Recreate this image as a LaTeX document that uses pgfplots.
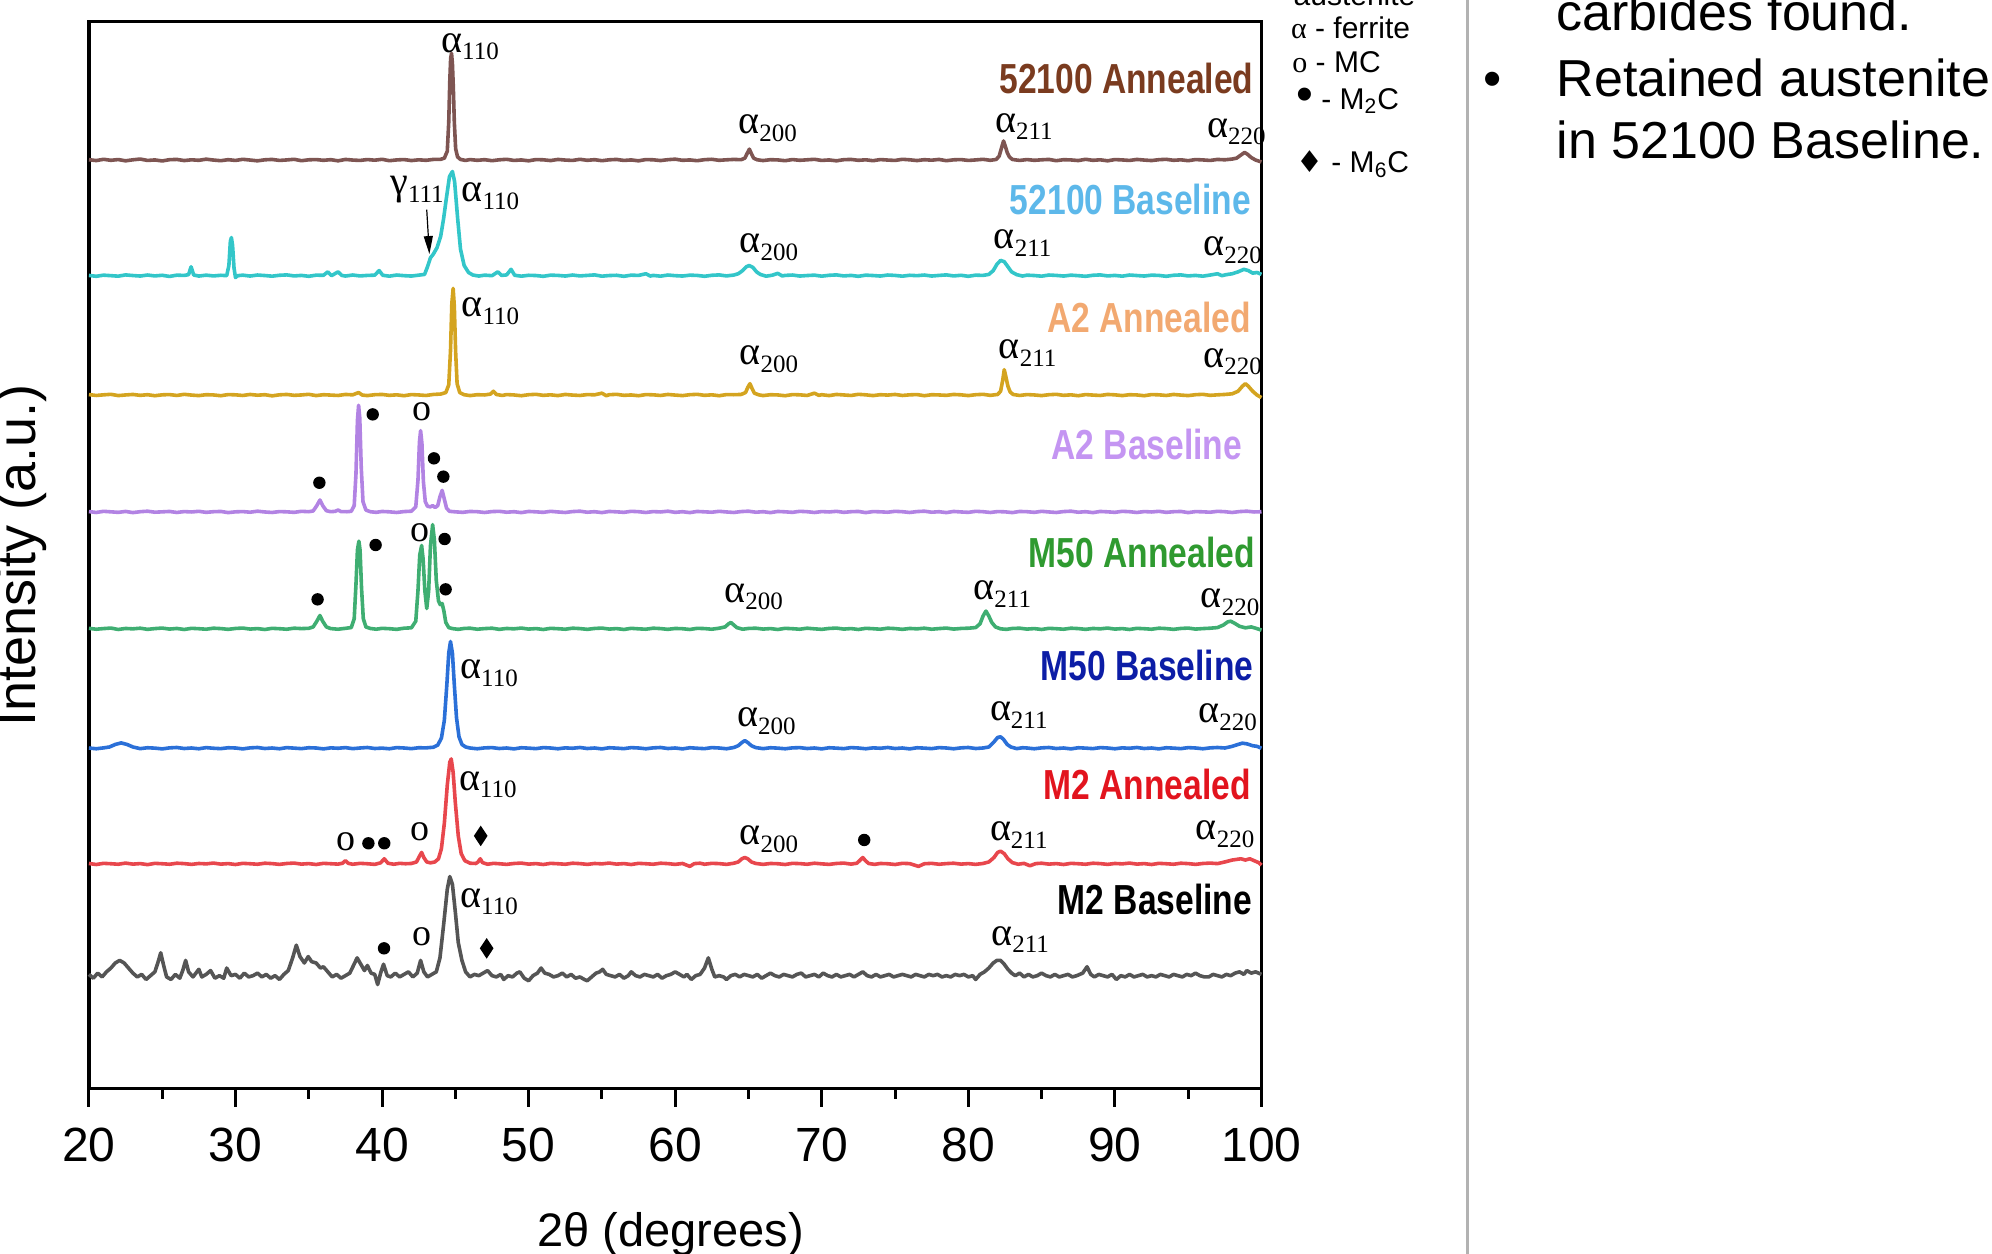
\documentclass[border=0pt]{standalone}
\usepackage{fontspec}
\setmainfont{Liberation Sans}
\newfontfamily\tms{Liberation Serif}
\newfontfamily\cond[FakeStretch=0.8]{Liberation Sans}
\newfontfamily\dejavu{DejaVu Sans}
\usepackage{pgfplots}
\pgfplotsset{compat=1.18}
\usetikzlibrary{arrows.meta,shapes.geometric}
\definecolor{cBrown}{HTML}{7E5552}
\definecolor{cBrownT}{HTML}{7A3B1F}
\definecolor{cCyan}{HTML}{33C6C9}
\definecolor{cCyanT}{HTML}{5DB8EA}
\definecolor{cGold}{HTML}{D4A420}
\definecolor{cGoldT}{HTML}{F2A971}
\definecolor{cPurple}{HTML}{B283E3}
\definecolor{cPurpleT}{HTML}{C495F2}
\definecolor{cGreen}{HTML}{3FAE72}
\definecolor{cGreenT}{HTML}{2F9A30}
\definecolor{cBlue}{HTML}{2B70D8}
\definecolor{cBlueT}{HTML}{0C1DA6}
\definecolor{cRed}{HTML}{E8474D}
\definecolor{cRedT}{HTML}{E2141E}
\definecolor{cGray}{HTML}{555555}
\newcommand\al[1]{{\tms\fontsize{20}{20}\selectfont α\fontsize{12.5}{12.5}\selectfont\raisebox{-3.9pt}{#1}}}
\newcommand\ga[1]{{\tms\fontsize{20}{20}\selectfont γ\fontsize{12.5}{12.5}\selectfont\raisebox{-3.9pt}{#1}}}
\begin{document}
\begin{tikzpicture}[
  dot/.style={circle, fill=black, inner sep=0pt, minimum size=6.2pt},
  omk/.style={font=\tms\fontsize{19}{19}\selectfont, inner sep=0pt},
  dia/.style={diamond, fill=black, inner sep=0pt, minimum width=7pt, minimum height=10.5pt},
  pk/.style={anchor=base west, inner sep=0pt},
  sn/.style={anchor=base east, inner sep=0pt, font=\cond\bfseries\fontsize{21}{21}\selectfont},
  lg/.style={anchor=base west, inner sep=0pt, font=\fontsize{15}{15}\selectfont},
  rt/.style={anchor=base west, inner sep=0pt, font=\fontsize{26}{26}\selectfont}]
\useasboundingbox (0,0) rectangle (996pt,626.94pt);
\begin{axis}[
  at={(44.46pt,82.58pt)}, anchor=south west,
  scale only axis, width=586.29pt, height=533.57pt,
  xmin=20, xmax=100, ymin=0, ymax=840,
  xtick={20,30,...,100}, minor xtick={25,35,...,95},
  ytick=\empty,
  xtick pos=lower, tick align=outside,
  major tick length=9pt, minor tick length=5pt,
  tick style={black, line width=1.5pt},
  axis line style={line width=1.6pt},
  /pgf/number format/assume math mode=true,
  xticklabel style={font=\fontsize{24}{24}\selectfont, yshift=-7pt},
  xlabel={2θ (degrees)}, ylabel={Intensity (a.u.)},
  xlabel style={font=\fontsize{23.5}{24}\selectfont, at={(axis description cs:0.496,-0.136)}, anchor=center},
  ylabel style={font=\fontsize{27}{27}\selectfont, at={(axis description cs:-0.0575,0.5)}, anchor=center},
  every axis plot/.append style={line width=1.8pt, line join=round, no markers},
  clip=false,
]
% 52100 Annealed
\addplot[cBrown] table[row sep=\\, y expr=\thisrowno{1}+731] {x y\\
20 0.3\\ 20.5 -0.4\\ 21 0.6\\ 21.5 -0.2\\ 22 0.4\\ 22.5 -0.6\\ 23 0.2\\ 23.5 0.8\\ 24 -0.3\\ 24.5 0.1\\ 25 -0.7\\ 25.5 0.3\\ 26 0.5\\ 26.5 -0.4\\ 27 0.2\\ 27.5 -0.2\\ 28 0.7\\ 28.5 0\\ 29 -0.5\\ 29.5 0.3\\ 30 -0.3\\ 30.5 0.6\\ 31 0\\ 31.5 -0.6\\ 32 0.2\\ 32.5 0.5\\ 33 -0.3\\ 33.5 0.1\\ 34 0.6\\ 34.5 -0.5\\ 35 0.2\\ 35.5 0.4\\ 36 -0.2\\ 36.5 0.3\\ 37 -0.6\\ 37.5 0.5\\ 38 0\\ 38.5 -0.3\\ 39 0.4\\ 39.5 -0.1\\ 40 0.6\\ 40.5 -0.5\\ 41 0.1\\ 41.5 0.4\\ 42 -0.4\\ 42.5 0.2\\ 43 -0.2\\ 43.5 0.5\\ 44 0.6\\ 44.25 1.5\\ 44.45 7\\ 44.55 30\\ 44.62 62\\ 44.68 80\\ 44.74 84\\ 44.8 76\\ 44.86 58\\ 44.93 30\\ 45.02 9\\ 45.15 2.5\\ 45.35 0.5\\ 45.7 -0.3\\ 46 0.4\\ 46.5 -0.2\\ 47 0.3\\ 47.5 -0.5\\ 48 0.2\\ 48.5 0.6\\ 49 -0.3\\ 49.5 0.1\\ 50 -0.6\\ 50.5 0.4\\ 51 0.2\\ 51.5 -0.4\\ 52 0.5\\ 52.5 0\\ 53 -0.3\\ 53.5 0.6\\ 54 -0.2\\ 54.5 0.3\\ 55 -0.5\\ 55.5 0.2\\ 56 0.5\\ 56.5 -0.3\\ 57 0.1\\ 57.5 -0.6\\ 58 0.4\\ 58.5 0.2\\ 59 -0.4\\ 59.5 0.3\\ 60 0.7\\ 60.5 -0.2\\ 61 0.1\\ 61.5 -0.5\\ 62 0.3\\ 62.5 0.6\\ 63 -0.2\\ 63.5 0.2\\ 64 0.5\\ 64.5 0.3\\ 64.75 1.5\\ 64.9 5\\ 65.06 8.6\\ 65.2 5\\ 65.35 1.5\\ 65.6 0.2\\ 66 -0.4\\ 66.5 0.3\\ 67 0.1\\ 67.5 -0.5\\ 68 0.4\\ 68.5 -0.2\\ 69 0.2\\ 69.5 0.6\\ 70 -0.3\\ 70.5 0.1\\ 71 -0.6\\ 71.5 0.3\\ 72 0.5\\ 72.5 -0.2\\ 73 0.2\\ 73.5 -0.5\\ 74 0.4\\ 74.5 0\\ 75 -0.3\\ 75.5 0.6\\ 76 0.2\\ 76.5 -0.4\\ 77 0.3\\ 77.5 -0.1\\ 78 0.5\\ 78.5 -0.5\\ 79 0.2\\ 79.5 0.4\\ 80 -0.3\\ 80.5 0.1\\ 81 0.6\\ 81.5 -0.2\\ 81.9 0.5\\ 82.1 3\\ 82.25 9\\ 82.4 15\\ 82.52 11\\ 82.65 6\\ 82.8 2.5\\ 83 0.5\\ 83.5 -0.3\\ 84 0.4\\ 84.5 -0.2\\ 85 0.2\\ 85.5 0.5\\ 86 -0.5\\ 86.5 0.3\\ 87 0.1\\ 87.5 -0.4\\ 88 0.6\\ 88.5 -0.2\\ 89 0.2\\ 89.5 -0.6\\ 90 0.4\\ 90.5 0.1\\ 91 -0.3\\ 91.5 0.5\\ 92 0\\ 92.5 -0.4\\ 93 0.3\\ 93.5 0.6\\ 94 -0.2\\ 94.5 0.2\\ 95 -0.5\\ 95.5 0.4\\ 96 0.1\\ 96.5 -0.3\\ 97 0.5\\ 97.5 0.2\\ 98 0.8\\ 98.3 1.5\\ 98.6 4\\ 98.85 6\\ 99.05 4.5\\ 99.3 2\\ 99.6 0\\ 100 -1.5\\
};
% 52100 Baseline
\addplot[cCyan] table[row sep=\\, y expr=\thisrowno{1}+640] {x y\\
20 0.2\\ 20.5 -0.5\\ 21 0.4\\ 21.5 0\\ 22 -0.4\\ 22.5 0.6\\ 23 0.1\\ 23.5 -0.3\\ 24 0.5\\ 24.5 -0.2\\ 25 0.3\\ 25.5 -0.6\\ 26 0.4\\ 26.5 0.2\\ 26.8 0.8\\ 26.97 7\\ 27.15 0.5\\ 27.5 -0.3\\ 28 0.4\\ 28.5 -0.2\\ 29 0.3\\ 29.4 0\\ 29.55 8\\ 29.65 27\\ 29.72 30\\ 29.8 24\\ 29.9 6\\ 30.0 -1.5\\ 30.15 0\\ 30.5 0.4\\ 31 -0.3\\ 31.5 0.5\\ 32 0.1\\ 32.5 -0.4\\ 33 0.3\\ 33.5 0.6\\ 34 -0.2\\ 34.5 0.2\\ 35 -0.5\\ 35.5 0.4\\ 36 0.3\\ 36.3 3\\ 36.55 0\\ 37 3\\ 37.25 0.2\\ 37.5 -0.3\\ 38 0.5\\ 38.5 -0.2\\ 39 0.2\\ 39.5 0.4\\ 39.8 4\\ 40.05 0.3\\ 40.5 -0.4\\ 41 0.5\\ 41.5 0\\ 42 -0.3\\ 42.5 0.4\\ 42.9 1\\ 43.1 7\\ 43.3 14\\ 43.5 17\\ 43.75 22\\ 44.0 31\\ 44.2 45\\ 44.4 62\\ 44.6 78\\ 44.8 82\\ 44.95 74\\ 45.15 46\\ 45.35 21\\ 45.6 8\\ 45.9 2.5\\ 46.2 0.5\\ 46.6 -0.3\\ 47 0.4\\ 47.5 0\\ 47.9 3\\ 48.15 0.2\\ 48.5 0.6\\ 48.8 5\\ 49.05 0.3\\ 49.5 -0.4\\ 50 0.3\\ 50.5 0.1\\ 51 -0.5\\ 51.5 0.4\\ 52 0.2\\ 52.5 -0.3\\ 53 0.5\\ 53.5 -0.2\\ 54 0.2\\ 54.5 0.6\\ 55 -0.4\\ 55.5 0.1\\ 56 0.3\\ 56.5 -0.5\\ 57 0.4\\ 57.5 0.2\\ 58 1.5\\ 58.3 -0.3\\ 58.5 0.2\\ 59 -0.4\\ 59.5 0.5\\ 60 0\\ 60.5 -0.3\\ 61 0.4\\ 61.5 0.2\\ 62 -0.5\\ 62.5 0.3\\ 63 0.6\\ 63.5 -0.2\\ 64 0.5\\ 64.3 1.5\\ 64.6 4\\ 64.85 7\\ 65.05 8\\ 65.3 6.5\\ 65.55 3\\ 65.8 1\\ 66.2 -0.4\\ 66.6 0.3\\ 67 1.8\\ 67.3 -0.2\\ 67.5 0.2\\ 68 0.5\\ 68.5 -0.3\\ 69 0.1\\ 69.5 0.4\\ 70 -0.4\\ 70.5 0.3\\ 71 0.6\\ 71.5 -0.2\\ 72 0.2\\ 72.5 -0.5\\ 73 0.4\\ 73.5 0.1\\ 74 -0.3\\ 74.5 0.5\\ 75 0.2\\ 75.5 -0.4\\ 76 0.3\\ 76.5 0\\ 77 0.5\\ 77.5 -0.3\\ 78 0.2\\ 78.5 0.6\\ 79 -0.2\\ 79.5 0.3\\ 80 -0.5\\ 80.5 0.4\\ 81 0.2\\ 81.4 1\\ 81.7 4\\ 81.95 9\\ 82.2 12\\ 82.45 11\\ 82.7 7\\ 82.95 3\\ 83.3 0.8\\ 83.7 -0.3\\ 84 0.4\\ 84.5 0.1\\ 85 -0.4\\ 85.5 0.5\\ 86 0.2\\ 86.5 -0.3\\ 87 0.4\\ 87.5 0\\ 88 -0.5\\ 88.5 0.3\\ 89 0.6\\ 89.5 -0.2\\ 90 0.2\\ 90.5 -0.4\\ 91 0.5\\ 91.5 0.1\\ 92 -0.3\\ 92.5 0.4\\ 93 0.2\\ 93.5 -0.5\\ 94 0.3\\ 94.5 0.6\\ 95 -0.2\\ 95.5 0.2\\ 96 -0.4\\ 96.5 0.5\\ 97 1.5\\ 97.3 0\\ 97.6 0.8\\ 98 1.5\\ 98.4 3\\ 98.8 5\\ 99.1 4\\ 99.4 2\\ 99.7 2.5\\ 100 1\\
};
% A2 Annealed
\addplot[cGold] table[row sep=\\, y expr=\thisrowno{1}+546] {x y\\
20 0.4\\ 20.5 -0.3\\ 21 0.2\\ 21.5 0.6\\ 22 -0.4\\ 22.5 0.1\\ 23 0.5\\ 23.5 -0.2\\ 24 0.3\\ 24.5 -0.5\\ 25 0.2\\ 25.5 0.4\\ 26 -0.3\\ 26.5 0.6\\ 27 0\\ 27.5 -0.4\\ 28 0.3\\ 28.5 0.1\\ 29 -0.5\\ 29.5 0.4\\ 30 0.2\\ 30.5 -0.3\\ 31 0.5\\ 31.5 -0.1\\ 32 0.3\\ 32.5 -0.6\\ 33 0.2\\ 33.5 0.5\\ 34 -0.2\\ 34.5 0.1\\ 35 0.6\\ 35.5 -0.4\\ 36 0.3\\ 36.5 0\\ 37 -0.3\\ 37.5 0.5\\ 38 0.2\\ 38.4 2\\ 38.65 0\\ 39 -0.4\\ 39.5 0.3\\ 40 0.5\\ 40.5 -0.2\\ 41 0.2\\ 41.5 -0.5\\ 42 0.4\\ 42.5 0.1\\ 43 -0.3\\ 43.5 0.5\\ 44 0.8\\ 44.35 2\\ 44.55 8\\ 44.67 35\\ 44.76 72\\ 44.85 84\\ 44.93 70\\ 45.02 34\\ 45.12 9\\ 45.3 2\\ 45.6 0.3\\ 46 -0.4\\ 46.5 0.3\\ 47 0.1\\ 47.4 0.8\\ 47.6 3\\ 47.8 0.5\\ 48.2 -0.3\\ 48.5 0.4\\ 49 0.1\\ 49.5 -0.5\\ 50 0.3\\ 50.5 0.6\\ 51 -0.2\\ 51.5 0.2\\ 52 -0.4\\ 52.5 0.5\\ 53 0\\ 53.5 -0.3\\ 54 0.4\\ 54.5 0.2\\ 55 1.5\\ 55.3 -0.5\\ 55.5 0.3\\ 56 0.6\\ 56.5 -0.2\\ 57 0.1\\ 57.5 -0.5\\ 58 0.4\\ 58.5 0.2\\ 59 -0.3\\ 59.5 0.5\\ 60 0\\ 60.5 -0.4\\ 61 0.3\\ 61.5 0.6\\ 62 -0.2\\ 62.5 0.2\\ 63 -0.5\\ 63.5 0.4\\ 64 0.3\\ 64.5 0.5\\ 64.8 2\\ 64.95 6\\ 65.1 9\\ 65.25 5\\ 65.4 1.5\\ 65.7 0.2\\ 66 -0.4\\ 66.5 0.3\\ 67 0.1\\ 67.5 -0.5\\ 68 0.4\\ 68.5 0.2\\ 69 -0.3\\ 69.5 1.5\\ 69.8 -0.2\\ 70 0.3\\ 70.5 -0.4\\ 71 0.5\\ 71.5 0.1\\ 72 -0.3\\ 72.5 0.6\\ 73 0.2\\ 73.5 -0.4\\ 74 0.3\\ 74.5 0\\ 75 0.5\\ 75.5 -0.3\\ 76 0.2\\ 76.5 0.4\\ 77 -0.5\\ 77.5 0.3\\ 78 0.1\\ 78.5 -0.2\\ 79 0.5\\ 79.5 0.2\\ 80 -0.4\\ 80.5 0.3\\ 81 0.6\\ 81.5 -0.2\\ 82 0.5\\ 82.2 3\\ 82.35 12\\ 82.45 20\\ 82.55 15\\ 82.7 7\\ 82.85 2.5\\ 83.05 0.5\\ 83.5 -0.3\\ 84 0.4\\ 84.5 0.1\\ 85 -0.4\\ 85.5 0.3\\ 86 0.6\\ 86.5 -0.2\\ 87 0.2\\ 87.5 -0.5\\ 88 0.4\\ 88.5 0\\ 89 -0.3\\ 89.5 0.5\\ 90 0.2\\ 90.5 -0.4\\ 91 0.3\\ 91.5 0.1\\ 92 -0.5\\ 92.5 0.4\\ 93 0.2\\ 93.5 -0.3\\ 94 0.5\\ 94.5 0\\ 95 -0.4\\ 95.5 0.3\\ 96 0.6\\ 96.5 -0.2\\ 97 0.2\\ 97.5 0.5\\ 98 1\\ 98.4 3\\ 98.7 7\\ 98.9 9\\ 99.1 7\\ 99.4 3\\ 99.7 0\\ 100 -2\\
};
% A2 Baseline
\addplot[cPurple] table[row sep=\\, y expr=\thisrowno{1}+454] {x y\\
20 0.3\\ 20.5 -0.4\\ 21 0.5\\ 21.5 0.1\\ 22 -0.3\\ 22.5 0.4\\ 23 -0.5\\ 23.5 0.2\\ 24 0.6\\ 24.5 -0.2\\ 25 0.1\\ 25.5 0.4\\ 26 -0.4\\ 26.5 0.3\\ 27 0\\ 27.5 0.5\\ 28 -0.3\\ 28.5 0.2\\ 29 0.4\\ 29.5 -0.5\\ 30 0.1\\ 30.5 0.3\\ 31 -0.2\\ 31.5 0.6\\ 32 0\\ 32.5 -0.4\\ 33 0.3\\ 33.5 0.1\\ 34 -0.3\\ 34.5 0.5\\ 35 0.2\\ 35.3 0.8\\ 35.55 5\\ 35.76 9.4\\ 35.95 5\\ 36.2 1\\ 36.5 0.2\\ 36.8 0.5\\ 37.0 1.5\\ 37.2 0.3\\ 37.6 0.2\\ 37.9 0.5\\ 38.1 5\\ 38.22 30\\ 38.32 72\\ 38.4 84\\ 38.48 74\\ 38.58 35\\ 38.7 8\\ 38.9 1.5\\ 39.2 0.2\\ 39.6 -0.3\\ 40 0.4\\ 40.5 0.1\\ 41 -0.4\\ 41.5 0.3\\ 42 0.6\\ 42.3 4\\ 42.45 25\\ 42.55 55\\ 42.63 64\\ 42.72 54\\ 42.82 24\\ 42.95 8\\ 43.1 4.5\\ 43.3 4\\ 43.45 5\\ 43.62 3.5\\ 43.8 5\\ 43.95 12\\ 44.1 17\\ 44.25 10\\ 44.4 3\\ 44.6 0.5\\ 45 0.1\\ 45.5 -0.3\\ 46 0.4\\ 46.5 0.2\\ 47 -0.4\\ 47.5 0.3\\ 48 0.5\\ 48.5 -0.2\\ 49 0.2\\ 49.5 -0.5\\ 50 0.4\\ 50.5 0.1\\ 51 -0.3\\ 51.5 0.5\\ 52 0\\ 52.5 -0.4\\ 53 0.3\\ 53.5 0.6\\ 54 -0.2\\ 54.5 0.2\\ 55 -0.5\\ 55.5 0.4\\ 56 0.1\\ 56.5 -0.3\\ 57 0.5\\ 57.5 0.2\\ 58 -0.4\\ 58.5 0.3\\ 59 0\\ 59.5 0.6\\ 60 -0.3\\ 60.5 0.2\\ 61 -0.5\\ 61.5 0.4\\ 62 0.1\\ 62.5 -0.2\\ 63 0.5\\ 63.5 0\\ 64 -0.4\\ 64.5 0.3\\ 65 0.6\\ 65.5 -0.2\\ 66 0.2\\ 66.5 -0.5\\ 67 0.4\\ 67.5 0.1\\ 68 -0.3\\ 68.5 0.5\\ 69 0.2\\ 69.5 -0.4\\ 70 0.3\\ 70.5 0\\ 71 0.5\\ 71.5 -0.3\\ 72 0.2\\ 72.5 0.4\\ 73 -0.5\\ 73.5 0.3\\ 74 0.1\\ 74.5 -0.2\\ 75 0.5\\ 75.5 0.2\\ 76 -0.4\\ 76.5 0.3\\ 77 0.6\\ 77.5 -0.2\\ 78 0.2\\ 78.5 -0.5\\ 79 0.4\\ 79.5 0\\ 80 -0.3\\ 80.5 0.5\\ 81 0.2\\ 81.5 -0.4\\ 82 0.3\\ 82.5 0.1\\ 83 -0.5\\ 83.5 0.4\\ 84 0.2\\ 84.5 -0.3\\ 85 0.5\\ 85.5 0\\ 86 -0.4\\ 86.5 0.3\\ 87 0.6\\ 87.5 -0.2\\ 88 0.2\\ 88.5 -0.5\\ 89 0.4\\ 89.5 0.1\\ 90 -0.3\\ 90.5 0.5\\ 91 0.2\\ 91.5 -0.4\\ 92 0.3\\ 92.5 0\\ 93 0.5\\ 93.5 -0.3\\ 94 0.2\\ 94.5 0.4\\ 95 -0.5\\ 95.5 0.3\\ 96 0.1\\ 96.5 -0.2\\ 97 0.5\\ 97.5 0.2\\ 98 -0.4\\ 98.5 0.3\\ 99 0.6\\ 99.5 0\\ 100 0.2\\
};
% M50 Annealed
\addplot[cGreen] table[row sep=\\, y expr=\thisrowno{1}+362] {x y\\
20 0.4\\ 20.5 -0.3\\ 21 0.2\\ 21.5 0.6\\ 22 -0.5\\ 22.5 0.3\\ 23 0\\ 23.5 0.5\\ 24 -0.4\\ 24.5 0.2\\ 25 0.6\\ 25.5 -0.2\\ 26 0.3\\ 26.5 -0.5\\ 27 0.4\\ 27.5 0.1\\ 28 -0.3\\ 28.5 0.5\\ 29 0.2\\ 29.5 -0.4\\ 30 0.3\\ 30.5 0.6\\ 31 -0.2\\ 31.5 0.2\\ 32 -0.5\\ 32.5 0.4\\ 33 0.1\\ 33.5 -0.3\\ 34 0.5\\ 34.5 0.2\\ 35 0.4\\ 35.3 1.5\\ 35.55 6\\ 35.76 10.5\\ 35.95 6\\ 36.2 1.5\\ 36.5 0.2\\ 37 -0.3\\ 37.5 0.4\\ 37.9 1\\ 38.1 8\\ 38.22 35\\ 38.32 62\\ 38.42 69\\ 38.5 62\\ 38.6 32\\ 38.72 8\\ 38.9 1.5\\ 39.2 0.3\\ 39.6 -0.3\\ 40 0.4\\ 40.5 0.1\\ 41 -0.4\\ 41.5 0.5\\ 42 0.8\\ 42.3 6\\ 42.45 30\\ 42.57 58\\ 42.7 65.6\\ 42.8 55\\ 42.92 30\\ 43.05 16\\ 43.18 30\\ 43.3 65\\ 43.45 82\\ 43.57 70\\ 43.7 38\\ 43.85 22\\ 43.97 19\\ 44.1 20\\ 44.22 14\\ 44.35 5\\ 44.55 1\\ 44.8 0.2\\ 45.2 -0.4\\ 45.6 0.3\\ 46 0.5\\ 46.5 -0.3\\ 47 0.2\\ 47.5 0.5\\ 48 -0.4\\ 48.5 0.3\\ 49 0\\ 49.5 0.6\\ 50 -0.2\\ 50.5 0.2\\ 51 -0.5\\ 51.5 0.4\\ 52 0.1\\ 52.5 -0.3\\ 53 0.5\\ 53.5 0.2\\ 54 -0.4\\ 54.5 0.3\\ 55 0.6\\ 55.5 -0.2\\ 56 0.2\\ 56.5 -0.5\\ 57 0.4\\ 57.5 0\\ 58 -0.3\\ 58.5 0.5\\ 59 0.2\\ 59.5 -0.4\\ 60 0.3\\ 60.5 0.1\\ 61 -0.5\\ 61.5 0.4\\ 62 0.2\\ 62.5 -0.3\\ 63 0.5\\ 63.4 1.5\\ 63.65 4\\ 63.8 5\\ 63.95 3.5\\ 64.2 1\\ 64.6 -0.3\\ 65 0.3\\ 65.5 0.5\\ 66 -0.2\\ 66.5 0.2\\ 67 -0.5\\ 67.5 0.4\\ 68 0.1\\ 68.5 -0.3\\ 69 0.5\\ 69.5 0\\ 70 -0.4\\ 70.5 0.3\\ 71 0.6\\ 71.5 -0.2\\ 72 0.2\\ 72.5 -0.5\\ 73 0.4\\ 73.5 0.1\\ 74 -0.3\\ 74.5 0.5\\ 75 0.2\\ 75.5 -0.4\\ 76 0.3\\ 76.5 0\\ 77 0.5\\ 77.5 -0.3\\ 78 0.2\\ 78.5 0.6\\ 79 -0.2\\ 79.5 0.3\\ 80 0.5\\ 80.5 1\\ 80.8 4\\ 81.0 10\\ 81.2 14\\ 81.4 10\\ 81.6 5\\ 81.85 1.5\\ 82.2 0\\ 82.6 -0.4\\ 83 0.3\\ 83.5 0.5\\ 84 -0.2\\ 84.5 0.2\\ 85 -0.5\\ 85.5 0.4\\ 86 0.1\\ 86.5 -0.3\\ 87 0.5\\ 87.5 0.2\\ 88 -0.4\\ 88.5 0.3\\ 89 0\\ 89.5 0.6\\ 90 -0.2\\ 90.5 0.2\\ 91 -0.5\\ 91.5 0.4\\ 92 0.1\\ 92.5 -0.3\\ 93 0.5\\ 93.5 0.2\\ 94 -0.4\\ 94.5 0.3\\ 95 0.6\\ 95.5 -0.2\\ 96 0.2\\ 96.5 0.5\\ 97 1\\ 97.4 3\\ 97.7 5.5\\ 97.9 6\\ 98.15 4.5\\ 98.5 2\\ 98.9 0.8\\ 99.3 1.5\\ 99.6 0.5\\ 100 -1\\
};
% M50 Baseline
\addplot[cBlue] table[row sep=\\, y expr=\thisrowno{1}+268] {x y\\
20 0.2\\ 20.5 -0.4\\ 21 0.3\\ 21.4 1\\ 21.8 3\\ 22.2 4.2\\ 22.6 3\\ 23 1\\ 23.5 -0.3\\ 24 0.4\\ 24.5 0.1\\ 25 -0.5\\ 25.5 0.3\\ 26 0.6\\ 26.5 -0.2\\ 27 0.2\\ 27.5 -0.4\\ 28 0.5\\ 28.5 0\\ 29 -0.3\\ 29.5 0.4\\ 30 0.2\\ 30.5 -0.5\\ 31 0.3\\ 31.5 0.6\\ 32 -0.2\\ 32.5 0.2\\ 33 -0.4\\ 33.5 0.5\\ 34 0.1\\ 34.5 -0.3\\ 35 0.4\\ 35.5 0.2\\ 36 -0.5\\ 36.5 0.3\\ 37 0\\ 37.5 0.5\\ 38 -0.3\\ 38.5 0.2\\ 39 0.6\\ 39.5 -0.2\\ 40 0.1\\ 40.5 -0.4\\ 41 0.5\\ 41.5 0.2\\ 42 -0.3\\ 42.5 0.4\\ 43 0.3\\ 43.5 0.8\\ 43.8 2.5\\ 44.05 8\\ 44.25 22\\ 44.42 50\\ 44.55 75\\ 44.67 84\\ 44.8 75\\ 44.93 50\\ 45.08 24\\ 45.25 9\\ 45.45 3\\ 45.7 1\\ 46 0.2\\ 46.5 -0.4\\ 47 0.3\\ 47.5 0.5\\ 48 -0.2\\ 48.5 0.2\\ 49 -0.5\\ 49.5 0.4\\ 50 0.1\\ 50.5 -0.3\\ 51 0.5\\ 51.5 0.2\\ 52 -0.4\\ 52.5 0.3\\ 53 0\\ 53.5 0.6\\ 54 -0.2\\ 54.5 0.2\\ 55 -0.5\\ 55.5 0.4\\ 56 0.1\\ 56.5 -0.3\\ 57 0.5\\ 57.5 0.2\\ 58 -0.4\\ 58.5 0.3\\ 59 0.6\\ 59.5 -0.2\\ 60 0.2\\ 60.5 -0.5\\ 61 0.4\\ 61.5 0\\ 62 -0.3\\ 62.5 0.5\\ 63 0.2\\ 63.5 -0.4\\ 64 0.6\\ 64.3 2\\ 64.55 4.5\\ 64.75 6\\ 64.95 4.5\\ 65.2 2\\ 65.5 0.5\\ 66 -0.3\\ 66.5 0.4\\ 67 0.1\\ 67.5 -0.4\\ 68 0.3\\ 68.5 0.5\\ 69 -0.2\\ 69.5 0.2\\ 70 -0.5\\ 70.5 0.4\\ 71 0.1\\ 71.5 -0.3\\ 72 0.5\\ 72.5 0.2\\ 73 -0.4\\ 73.5 0.3\\ 74 0\\ 74.5 0.6\\ 75 -0.2\\ 75.5 0.2\\ 76 -0.5\\ 76.5 0.4\\ 77 0.1\\ 77.5 -0.3\\ 78 0.5\\ 78.5 0.2\\ 79 -0.4\\ 79.5 0.3\\ 80 0.6\\ 80.5 -0.2\\ 81 0.2\\ 81.4 1\\ 81.75 5\\ 82.0 8.5\\ 82.2 9\\ 82.4 7\\ 82.65 3\\ 82.9 1\\ 83.3 -0.3\\ 83.7 0.4\\ 84 0.2\\ 84.5 -0.4\\ 85 0.3\\ 85.5 0.6\\ 86 -0.2\\ 86.5 0.2\\ 87 -0.5\\ 87.5 0.4\\ 88 0.1\\ 88.5 -0.3\\ 89 0.5\\ 89.5 0.2\\ 90 -0.4\\ 90.5 0.3\\ 91 0\\ 91.5 0.6\\ 92 -0.2\\ 92.5 0.2\\ 93 -0.5\\ 93.5 0.4\\ 94 0.1\\ 94.5 -0.3\\ 95 0.5\\ 95.5 0.2\\ 96 -0.4\\ 96.5 0.3\\ 97 0.6\\ 97.5 0.2\\ 98 1.5\\ 98.4 3\\ 98.7 4\\ 99 3.5\\ 99.4 2\\ 99.7 1.5\\ 100 0\\
};
% M2 Annealed
\addplot[cRed] table[row sep=\\, y expr=\thisrowno{1}+177] {x y\\
20 0.3\\ 20.5 -0.5\\ 21 0.4\\ 21.5 0.1\\ 22 -0.3\\ 22.5 0.6\\ 23 -0.2\\ 23.5 0.2\\ 24 -0.6\\ 24.5 0.4\\ 25 0.1\\ 25.5 -0.3\\ 26 0.5\\ 26.5 0.2\\ 27 -0.4\\ 27.5 0.3\\ 28 0\\ 28.5 0.6\\ 29 -0.2\\ 29.5 0.2\\ 30 -0.5\\ 30.5 0.4\\ 31 0.1\\ 31.5 -0.3\\ 32 0.5\\ 32.5 0.2\\ 33 -0.4\\ 33.5 0.3\\ 34 0.6\\ 34.5 -0.2\\ 35 0.2\\ 35.5 -0.5\\ 36 0.4\\ 36.5 0.1\\ 37 -0.2\\ 37.3 0.5\\ 37.5 2.5\\ 37.7 0.4\\ 38 -0.3\\ 38.5 0.4\\ 39 0.1\\ 39.5 -0.4\\ 39.9 0.8\\ 40.15 4\\ 40.4 0.5\\ 40.8 -0.3\\ 41.2 0.4\\ 41.6 0.1\\ 42 0.3\\ 42.35 1.5\\ 42.55 6\\ 42.7 9\\ 42.85 5\\ 43.05 1.5\\ 43.3 0.8\\ 43.6 1.5\\ 43.85 4\\ 44.05 12\\ 44.25 32\\ 44.45 62\\ 44.62 80\\ 44.72 82.6\\ 44.85 72\\ 45.0 48\\ 45.2 22\\ 45.4 8\\ 45.65 2.5\\ 46.0 0.5\\ 46.4 0.3\\ 46.55 1.5\\ 46.7 4\\ 46.85 1\\ 47.2 -0.3\\ 47.6 0.4\\ 48 0.1\\ 48.5 -0.4\\ 49 0.3\\ 49.5 0.6\\ 50 -0.2\\ 50.5 0.2\\ 51 -0.5\\ 51.5 0.4\\ 52 0.1\\ 52.5 -0.3\\ 53 0.5\\ 53.5 0.2\\ 54 -0.4\\ 54.5 0.3\\ 55 0\\ 55.5 0.6\\ 56 -0.2\\ 56.5 0.2\\ 57 -0.5\\ 57.5 0.4\\ 58 0.1\\ 58.5 -0.3\\ 59 0.5\\ 59.5 0.2\\ 60 -0.4\\ 60.5 0.3\\ 61 -2\\ 61.3 0.2\\ 61.7 0.5\\ 62 -0.3\\ 62.5 0.4\\ 63 0.2\\ 63.5 -0.4\\ 64 0.5\\ 64.3 1.5\\ 64.55 4\\ 64.75 5\\ 64.95 4\\ 65.2 1.5\\ 65.5 0.3\\ 66 -0.4\\ 66.5 0.3\\ 67 0.1\\ 67.5 -0.5\\ 68 0.4\\ 68.5 0.2\\ 69 -0.3\\ 69.5 0.5\\ 70 0\\ 70.5 -0.4\\ 71 0.3\\ 71.5 0.6\\ 72 -0.2\\ 72.4 0.5\\ 72.62 3\\ 72.8 5\\ 72.98 2.5\\ 73.2 0.3\\ 73.6 -0.4\\ 74 0.3\\ 74.5 0.1\\ 75 -0.5\\ 75.5 0.4\\ 76 0.2\\ 76.6 -2\\ 77 0.1\\ 77.5 0.4\\ 78 -0.3\\ 78.5 0.2\\ 79 0.5\\ 79.5 -0.2\\ 80 0.2\\ 80.5 -0.4\\ 81 0.3\\ 81.4 1.5\\ 81.75 5\\ 82.0 9\\ 82.2 10\\ 82.45 8\\ 82.7 4\\ 83.0 1\\ 83.4 -0.3\\ 83.8 0.4\\ 84.2 -1.5\\ 84.6 0.2\\ 85 0.5\\ 85.5 -0.2\\ 86 0.2\\ 86.5 -0.5\\ 87 0.4\\ 87.5 0.1\\ 88 -0.3\\ 88.5 0.5\\ 89 0.2\\ 89.5 -0.4\\ 90 0.3\\ 90.5 0\\ 91 0.6\\ 91.5 -0.2\\ 92 0.2\\ 92.5 -0.5\\ 93 0.4\\ 93.5 0.1\\ 94 -0.3\\ 94.5 0.5\\ 95 0.2\\ 95.5 -0.4\\ 96 0.3\\ 96.5 0.6\\ 97 0.2\\ 97.5 1.5\\ 98 3\\ 98.3 3.5\\ 98.6 4\\ 98.9 3\\ 99.2 4\\ 99.5 2.5\\ 99.8 1\\ 100 -1\\
};
% M2 Baseline
\addplot[cGray] table[row sep=\\, y expr=\thisrowno{1}+89] {x y\\
20 1\\ 20.3 -2\\ 20.6 2\\ 20.9 -1\\ 21.2 3\\ 21.5 6\\ 21.8 10\\ 22.1 12\\ 22.4 10\\ 22.7 6\\ 23.0 2\\ 23.3 -1\\ 23.6 1\\ 23.9 -3\\ 24.2 0\\ 24.5 3\\ 24.7 10\\ 24.9 18\\ 25.1 8\\ 25.3 -1\\ 25.6 -3\\ 25.9 1\\ 26.2 -2\\ 26.4 4\\ 26.6 12\\ 26.8 3\\ 27.1 -1\\ 27.3 2\\ 27.5 5\\ 27.7 -1\\ 28.0 1\\ 28.3 4\\ 28.6 -2\\ 28.9 0\\ 29.2 -2\\ 29.4 6\\ 29.7 0\\ 30.0 1\\ 30.3 -2\\ 30.6 2\\ 30.9 -1\\ 31.2 0\\ 31.5 2\\ 31.8 -1\\ 32.1 1\\ 32.4 -2\\ 32.7 0\\ 33.0 -3\\ 33.3 1\\ 33.6 4\\ 33.9 14\\ 34.15 24\\ 34.4 15\\ 34.7 10\\ 34.96 15\\ 35.2 11\\ 35.5 10\\ 35.8 6\\ 36.0 7\\ 36.3 3\\ 36.6 -1\\ 36.9 1\\ 37.2 -2\\ 37.5 0\\ 37.8 2\\ 38.05 8\\ 38.3 14\\ 38.55 9\\ 38.8 4\\ 39.0 8\\ 39.25 2\\ 39.5 1\\ 39.7 -7\\ 39.9 2\\ 40.1 9\\ 40.35 0\\ 40.6 -1\\ 40.9 2\\ 41.2 -1\\ 41.5 1\\ 41.8 3\\ 42.1 -1\\ 42.4 2\\ 42.63 12\\ 42.85 3\\ 43.1 -1\\ 43.4 1\\ 43.7 3\\ 43.95 14\\ 44.2 40\\ 44.45 68\\ 44.62 78\\ 44.8 72\\ 45.0 50\\ 45.2 26\\ 45.45 12\\ 45.7 3\\ 46.0 -1\\ 46.3 1\\ 46.6 0\\ 46.9 2\\ 47.2 4\\ 47.5 0\\ 47.8 -1\\ 48.1 1\\ 48.3 -3\\ 48.6 0\\ 48.9 -1\\ 49.2 2\\ 49.4 3\\ 49.7 -2\\ 50.0 -4\\ 50.3 0\\ 50.6 2\\ 50.85 6\\ 51.1 2\\ 51.4 1\\ 51.7 -1\\ 52.0 0\\ 52.3 2\\ 52.6 -1\\ 52.9 1\\ 53.2 -2\\ 53.5 -1\\ 53.8 -3\\ 54.0 -4\\ 54.3 -1\\ 54.6 2\\ 54.85 3\\ 55.05 5\\ 55.3 1\\ 55.6 0\\ 55.9 -1\\ 56.2 1\\ 56.5 -2\\ 56.8 0\\ 57.0 3\\ 57.3 0\\ 57.6 -1\\ 57.9 1\\ 58.2 0\\ 58.5 -1\\ 58.8 1\\ 59.1 -2\\ 59.4 0\\ 59.7 1\\ 60.0 3\\ 60.3 1\\ 60.6 -1\\ 60.8 1\\ 61.1 -3\\ 61.4 0\\ 61.7 1\\ 62.0 6\\ 62.26 14\\ 62.5 5\\ 62.7 -1\\ 63.0 0\\ 63.3 -1\\ 63.5 -3\\ 63.8 0\\ 64.1 1\\ 64.4 -1\\ 64.7 1\\ 65.0 0\\ 65.3 -1\\ 65.6 1\\ 65.9 -2\\ 66.2 0\\ 66.5 2\\ 66.8 0\\ 67.1 -1\\ 67.4 1\\ 67.7 0\\ 68.0 -1\\ 68.3 1\\ 68.6 2\\ 68.9 -1\\ 69.2 0\\ 69.5 1\\ 69.8 -1\\ 70.1 2\\ 70.4 0\\ 70.7 -1\\ 71.0 1\\ 71.3 -1\\ 71.6 0\\ 71.9 1\\ 72.2 -1\\ 72.5 1\\ 72.8 3\\ 73.1 0\\ 73.4 -1\\ 73.7 1\\ 74.0 -1\\ 74.3 0\\ 74.6 1\\ 74.9 -1\\ 75.2 0\\ 75.5 1\\ 75.8 0\\ 76.1 -1\\ 76.4 1\\ 76.7 0\\ 77.0 -1\\ 77.3 1\\ 77.6 0\\ 77.9 1\\ 78.2 -1\\ 78.5 0\\ 78.8 -1\\ 79.1 1\\ 79.4 0\\ 79.7 1\\ 80.0 -1\\ 80.3 0\\ 80.5 -3\\ 80.8 1\\ 81.1 3\\ 81.4 6\\ 81.7 10\\ 81.95 12\\ 82.2 12\\ 82.45 9\\ 82.7 5\\ 82.95 2\\ 83.2 0\\ 83.5 2\\ 83.8 -1\\ 84.1 1\\ 84.4 -1\\ 84.7 0\\ 85.0 2\\ 85.3 0\\ 85.6 -1\\ 85.9 1\\ 86.2 -1\\ 86.5 0\\ 86.8 1\\ 87.1 -1\\ 87.4 0\\ 87.8 2\\ 88.1 7\\ 88.35 1\\ 88.6 -1\\ 88.9 1\\ 89.2 0\\ 89.5 -1\\ 89.8 1\\ 90.1 -3\\ 90.4 0\\ 90.7 -1\\ 91.0 1\\ 91.3 -1\\ 91.6 0\\ 91.9 1\\ 92.2 -1\\ 92.5 0\\ 92.8 -1\\ 93.1 1\\ 93.4 0\\ 93.7 -1\\ 94.0 1\\ 94.3 0\\ 94.6 -1\\ 94.9 1\\ 95.2 0\\ 95.5 2\\ 95.8 0\\ 96.1 -1\\ 96.4 -1\\ 96.7 1\\ 97.0 0\\ 97.3 -1\\ 97.6 1\\ 97.9 0\\ 98.2 2\\ 98.5 3\\ 98.8 1\\ 99.0 4\\ 99.3 2\\ 99.6 3\\ 100 1\\
};
% phase markers
\node[dot] at (axis cs:{20+(293.4-70)/11.5375},{857-326.2}) {};
\node[omk] at (axis cs:{20+(331.9-70)/11.5375},{857-324}) {o};
\node[dot] at (axis cs:{20+(341.6-70)/11.5375},{857-360.8}) {};
\node[dot] at (axis cs:{20+(349-70)/11.5375},{857-375.2}) {};
\node[dot] at (axis cs:{20+(251.4-70)/11.5375},{857-380}) {};
\node[dot] at (axis cs:{20+(250-70)/11.5375},{857-471.8}) {};
\node[dot] at (axis cs:{20+(295.7-70)/11.5375},{857-429}) {};
\node[omk] at (axis cs:{20+(330.6-70)/11.5375},{857-419.3}) {o};
\node[dot] at (axis cs:{20+(350-70)/11.5375},{857-424.3}) {};
\node[dot] at (axis cs:{20+(350.8-70)/11.5375},{857-463.9}) {};
\node[omk] at (axis cs:{20+(272.4-70)/11.5375},{857-662.5}) {o};
\node[dot] at (axis cs:{20+(290-70)/11.5375},{857-663.8}) {};
\node[dot] at (axis cs:{20+(302.5-70)/11.5375},{857-663.8}) {};
\node[omk] at (axis cs:{20+(330.6-70)/11.5375},{857-654.7}) {o};
\node[dia] at (axis cs:{20+(378.4-70)/11.5375},{857-658}) {};
\node[dot] at (axis cs:{20+(680.3-70)/11.5375},{857-661.2}) {};
\node[dot] at (axis cs:{20+(302.3-70)/11.5375},{857-746.5}) {};
\node[omk] at (axis cs:{20+(331.9-70)/11.5375},{857-737.3}) {o};
\node[dia] at (axis cs:{20+(383.1-70)/11.5375},{857-746.5}) {};
\end{axis}
\begin{scope}[x=0.6352pt, y=-0.6352pt, shift={(0pt,626.94pt)}]
% peak labels
\node[pk] at (347,41) {\al{110}};
\node[pk] at (581,105) {\al{200}};
\node[pk] at (783,104) {\al{211}};
\node[pk] at (950,108) {\al{220}};
\node[pk] at (307,153) {\ga{111}};
\node[pk] at (363,159) {\al{110}};
\node[pk] at (582,199) {\al{200}};
\node[pk] at (782,196) {\al{211}};
\node[pk] at (947,201) {\al{220}};
\node[pk] at (363,249) {\al{110}};
\node[pk] at (582,287) {\al{200}};
\node[pk] at (786,282) {\al{211}};
\node[pk] at (947,289) {\al{220}};
\node[pk] at (570,474) {\al{200}};
\node[pk] at (766,472) {\al{211}};
\node[pk] at (945,478) {\al{220}};
\node[pk] at (362,534) {\al{110}};
\node[pk] at (580,572) {\al{200}};
\node[pk] at (779,567) {\al{211}};
\node[pk] at (943,569) {\al{220}};
\node[pk] at (361,622) {\al{110}};
\node[pk] at (582,665) {\al{200}};
\node[pk] at (779,662) {\al{211}};
\node[pk] at (941,661) {\al{220}};
\node[pk] at (362,714) {\al{110}};
\node[pk] at (780,744) {\al{211}};
\draw[line width=0.6pt, -{Triangle[length=9pt,width=4.5pt]}] (335.9,165) -- (338,200);
% sample names
\node[sn, text=cBrownT] at (987,74) {52100 Annealed};
\node[sn, text=cCyanT] at (985,169) {52100 Baseline};
\node[sn, text=cGoldT] at (985,262) {A2 Annealed};
\node[sn, text=cPurpleT] at (978,362) {A2 Baseline};
\node[sn, text=cGreenT] at (988,447) {M50 Annealed};
\node[sn, text=cBlueT] at (987,536) {M50 Baseline};
\node[sn, text=cRedT] at (985,629) {M2 Annealed};
\node[sn, text=black] at (986,720) {M2 Baseline};
% legend
\node[lg] at (1018,4) {austenite};
\node[lg] at (1016,30) {{\tms α} - ferrite};
\node[lg] at (1017,57) {{\tms o} - MC};
\node[lg] at (1020,86) {\raisebox{-0.8pt}{\scalebox{1.6}{•}} - M\textsubscript{2}C};
\node[lg] at (1020,136) {{\dejavu ♦} - M\textsubscript{6}C};
% separator and right text
\draw[line width=1.3pt, color=black!30] (1155,-5) -- (1155,995);
\node[rt] at (1225,24) {carbides found.};
\node[rt, anchor=base] at (1175,76) {•};
\node[rt] at (1225,76) {Retained austenite};
\node[rt] at (1225,125) {in 52100 Baseline.};
\end{scope}
\end{tikzpicture}
\end{document}
